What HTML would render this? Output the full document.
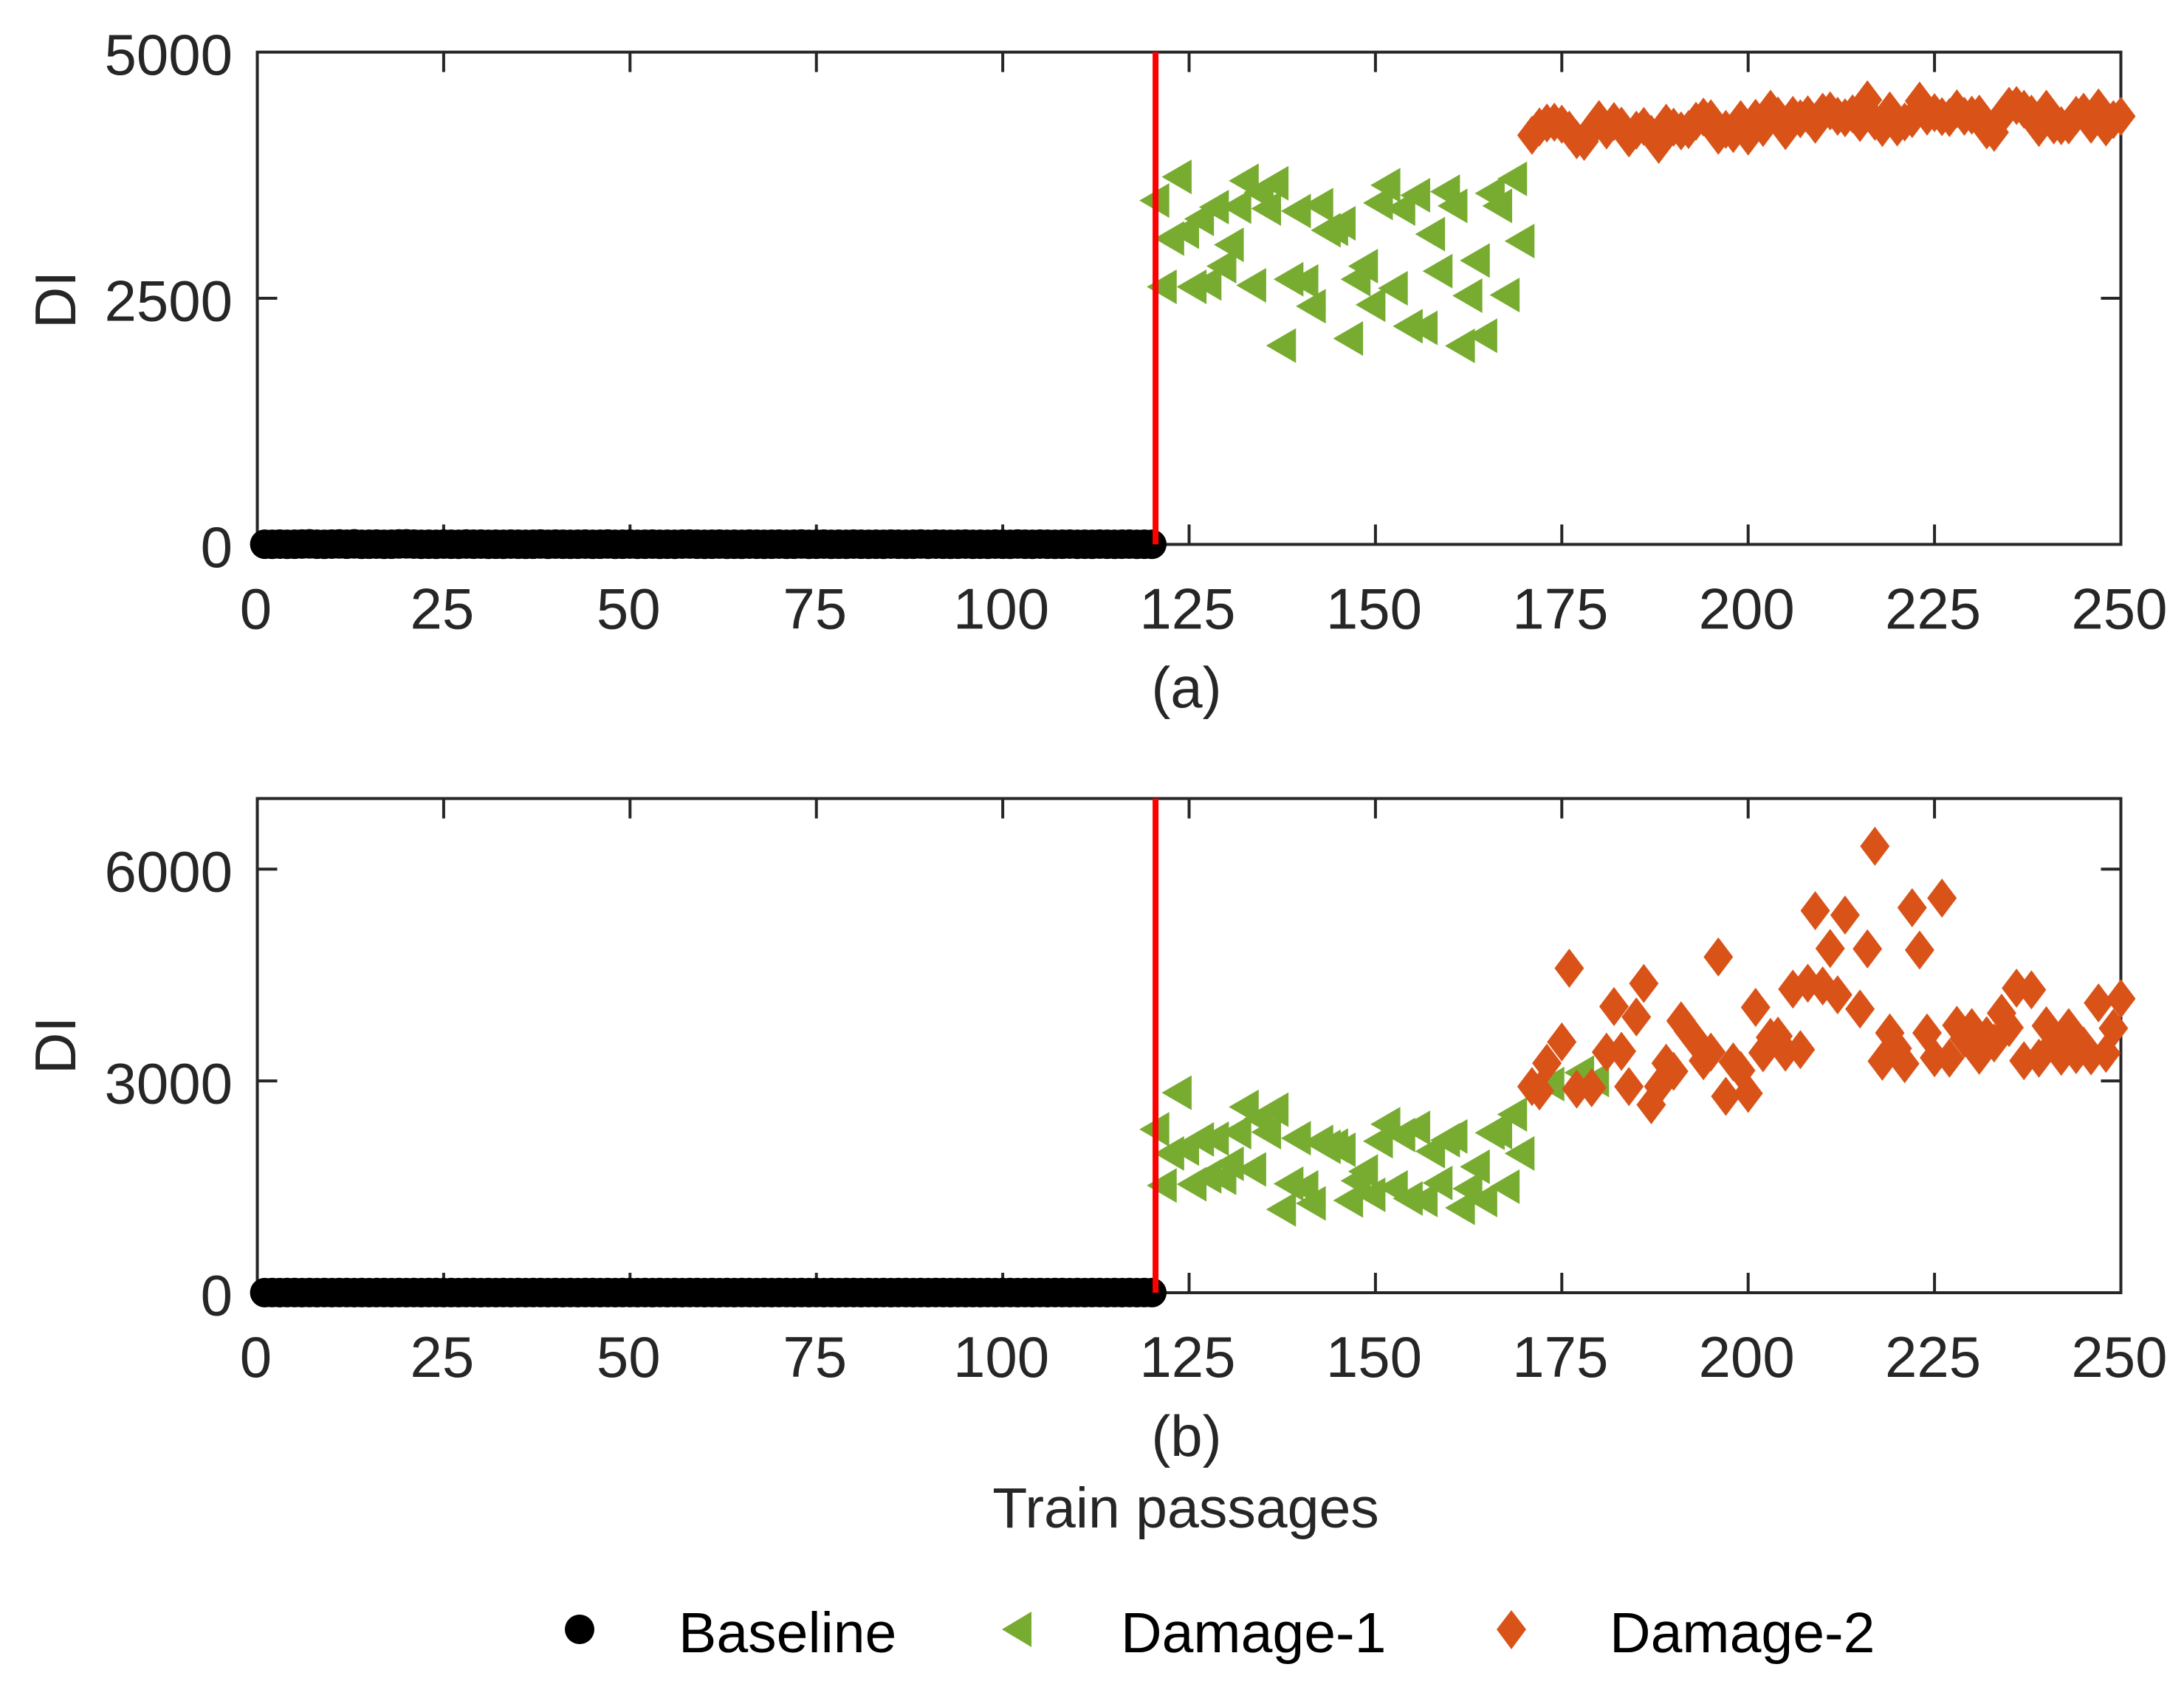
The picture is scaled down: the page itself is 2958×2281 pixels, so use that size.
<!DOCTYPE html>
<html lang="en">
<head>
<meta charset="utf-8">
<title>DI versus train passages</title>
<style>
html,body{margin:0;padding:0;background:#fff;}
svg{display:block;}
text{font-family:"Liberation Sans",Arial,sans-serif;}
</style>
</head>
<body>
<svg id="figure" xmlns="http://www.w3.org/2000/svg" width="2958" height="2281" viewBox="0 0 2958 2281">
  <rect x="0" y="0" width="2958" height="2281" fill="#ffffff"/>
  <g id="panel-a"></g>
  <g id="panel-b"></g>
  <text x="1607" y="958" font-size="78" fill="#262626" text-anchor="middle">(a)</text>
  <text x="1607" y="1972" font-size="78" fill="#262626" text-anchor="middle">(b)</text>
  <text x="1606" y="2069" font-size="77" fill="#262626" text-anchor="middle">Train passages</text>
  <g>
    <g>
      <circle cx="785" cy="2207" r="20" fill="#000000"/>
      <text x="919" y="2238" font-size="77" fill="#000000">Baseline</text>
    </g>
    <g>
      <polygon points="1357,2207 1397,2183 1397,2231" fill="#77ac30"/>
      <text x="1518" y="2238" font-size="77" fill="#000000">Damage-1</text>
    </g>
    <g>
      <polygon points="2027,2207 2047,2181 2067,2207 2047,2234" fill="#d95319"/>
      <text x="2180" y="2238" font-size="77" fill="#000000">Damage-2</text>
    </g>
  </g>
</svg>
<script>
const xTicks = [0,25,50,75,100,125,150,175,200,225,250];
const yTicksA = [0,2500,5000];
const yTicksB = [0,3000,6000];
const changePoint = [120.5];

const baselineXs = [1,2,3,4,5,6,7,8,9,10,11,12,13,14,15,16,17,18,19,20,21,22,23,24,25,26,27,28,29,30,31,32,33,34,35,36,37,38,39,40,41,42,43,44,45,46,47,48,49,50,51,52,53,54,55,56,57,58,59,60,61,62,63,64,65,66,67,68,69,70,71,72,73,74,75,76,77,78,79,80,81,82,83,84,85,86,87,88,89,90,91,92,93,94,95,96,97,98,99,100,101,102,103,104,105,106,107,108,109,110,111,112,113,114,115,116,117,118,119,120];
const baselineA = [2,1,3,1,2,4,6,2,1,3,5,2,6,1,2,3,1,2,5,6,3,1,2,1,3,2,1,4,2,3,1,2,1,3,2,1,2,4,1,3,2,1,2,3,1,2,4,1,2,3,1,2,3,1,2,1,3,4,2,1,2,3,1,2,1,3,2,1,2,3,1,2,4,1,2,3,1,2,1,3,2,1,2,1,3,2,1,2,4,1,3,2,1,2,3,1,2,1,3,2,1,4,2,1,3,2,1,2,3,1,2,1,3,2,1,2,3,1,2,1];
const baselineB = [1,2,1,2,3,1,2,1,2,1,3,2,1,2,1,2,3,1,2,1,2,1,3,2,1,2,1,3,2,1,2,1,3,1,2,1,2,3,1,2,1,2,1,3,2,1,2,1,3,2,1,2,1,3,1,2,1,2,3,1,2,1,2,1,3,2,1,2,1,3,2,1,2,1,3,1,2,1,2,3,1,2,1,2,1,3,2,1,2,1,3,2,1,2,1,3,1,2,1,2,3,1,2,1,2,1,3,2,1,2,1,3,2,1,2,1,3,1,2,1];

const damage1XsA = [121,122,123,124,125,126,127,128,129,130,131,132,133,134,135,136,137,138,139,140,141,142,143,144,145,146,147,148,149,150,151,152,153,154,155,156,157,158,159,160,161,162,163,164,165,166,167,168,169,170];
const damage1A = [3493,2616,3106,3733,3176,2616,3306,2651,3426,2826,3043,3431,3693,2631,3576,3411,3668,2019,2693,3386,2671,2419,3446,3191,3206,3261,2091,2693,2826,2434,3468,3648,2601,3411,2216,3546,2199,3151,2776,3583,3438,2016,2526,2883,2119,3566,3438,2533,3713,3081];

const damage1XsB = [121,122,123,124,125,126,127,128,129,130,131,132,133,134,135,136,137,138,139,140,141,142,143,144,145,146,147,148,149,150,151,152,153,154,155,156,157,158,159,160,161,162,163,164,165,166,167,168,169,170,174,178,180];
const damage1B = [2314,1519,1972,2833,2042,1537,2171,1648,2181,1627,1826,2275,2631,1746,2467,2275,2592,1181,1544,2188,1491,1265,2136,2066,2084,2025,1307,1586,1718,1387,2146,2387,1491,2234,1335,2335,1314,2004,1554,2160,2213,1202,1474,1784,1314,2265,2275,1502,2526,1972,2955,3118,3013];

const damage2XsA = [171,172,173,174,175,176,177,178,179,180,181,182,183,184,185,186,187,188,189,190,191,192,193,194,195,196,197,198,199,200,201,202,203,204,205,206,207,208,209,210,211,212,213,214,215,216,217,218,219,220,221,222,223,224,225,226,227,228,229,230,231,232,233,234,235,236,237,238,239,240,241,242,243,244,245,246,247,248,249,250];
const damage2A = [4155,4240,4280,4288,4268,4208,4110,4093,4213,4315,4210,4295,4248,4128,4208,4245,4165,4063,4278,4238,4200,4213,4298,4340,4323,4155,4215,4173,4315,4148,4328,4235,4420,4350,4203,4358,4323,4363,4268,4390,4403,4348,4333,4373,4285,4515,4298,4235,4403,4240,4290,4325,4503,4350,4385,4345,4335,4423,4348,4360,4370,4210,4185,4350,4450,4458,4420,4370,4235,4420,4260,4253,4260,4358,4390,4268,4433,4240,4315,4348];

const damage2XsB = [171,172,173,175,176,177,179,181,182,183,184,185,186,187,188,189,190,191,192,193,194,195,196,197,198,199,200,201,202,203,204,205,206,207,208,209,210,211,212,213,215,216,217,218,219,220,221,222,223,224,225,226,227,228,229,230,231,232,233,234,235,236,237,238,239,240,241,242,243,244,245,246,247,248,249,250];
const damage2B = [2920,2858,3251,3551,4596,2885,2903,3408,4053,3419,2920,3906,4380,2663,2920,3251,3136,3851,3704,3565,3286,3408,4756,2781,3269,3147,2823,4042,3398,3617,3635,3408,4300,3443,4384,5411,4345,4875,4220,5349,4018,4871,6324,3279,3680,3460,3244,5453,4854,3680,3328,5589,3321,3788,3600,3756,3363,3641,3537,3959,3756,4314,3286,4290,3321,3781,3530,3349,3756,3373,3495,3356,4105,3391,3746,4164];

const SVG_NS = 'http://www.w3.org/2000/svg';
const LEFT = 348.5, RIGHT = 2872.5, XMAX = 250;
function xScale(v){ return LEFT + (RIGHT - LEFT) * v / XMAX; }
function linearY(top, bottom, max){ return function(v){ return bottom - (bottom - top) * v / max; }; }

function make(parent, tag, attrs){
  const el = document.createElementNS(SVG_NS, tag);
  Object.keys(attrs).forEach(function(k){ el.setAttribute(k, attrs[k]); });
  parent.appendChild(el);
  return el;
}

function drawPanel(parent, top, bottom, yMax, yTicks, base, d1x, d1, d2x, d2, yTitleY){
  const yScale = linearY(top, bottom, yMax);
  const axisColor = '#262626';
  const axes = make(parent, 'g', {});
  
  
  const box = make(axes, 'rect', {x: LEFT, y: top, width: RIGHT - LEFT, height: bottom - top, fill: 'none', stroke: axisColor, 'stroke-width': 4});
  
  

  xTicks.forEach(function(t){
    const x = xScale(t);
    if (t > 0 && t < XMAX) {
      const a = make(axes, 'line', {x1: x, x2: x, y1: bottom, y2: bottom - 27, stroke: axisColor, 'stroke-width': 4});
      
      
      const b = make(axes, 'line', {x1: x, x2: x, y1: top, y2: top + 27, stroke: axisColor, 'stroke-width': 4});
      
      
    }
    const label = make(axes, 'text', {x: x - 2, y: bottom + 114, 'font-size': 78, fill: axisColor, 'text-anchor': 'middle'});
    
    
    label.textContent = String(t);
  });

  yTicks.forEach(function(t){
    const y = yScale(t);
    if (t > 0 && t < yMax) {
      const a = make(axes, 'line', {x1: LEFT, x2: LEFT + 27, y1: y, y2: y, stroke: axisColor, 'stroke-width': 4});
      
      
      const b = make(axes, 'line', {x1: RIGHT, x2: RIGHT - 27, y1: y, y2: y, stroke: axisColor, 'stroke-width': 4});
      
      
    }
    const label = make(axes, 'text', {x: 315, y: y + 30.5, 'font-size': 78, fill: axisColor, 'text-anchor': 'end'});
    
    
    label.textContent = String(t);
  });

  const title = make(axes, 'text', {x: 0, y: 0, 'font-size': 78, fill: axisColor, 'text-anchor': 'middle', transform: 'translate(102 ' + yTitleY + ') rotate(-90)'});
  
  
  title.textContent = 'DI';

  const baseGroup = make(parent, 'g', {fill: '#000000'});
  
  
  base.forEach(function(v, i){
    const c = make(baseGroup, 'circle', {cx: xScale(baselineXs[i]), cy: yScale(v), r: 20});
    
    
  });

  const d1Group = make(parent, 'g', {fill: '#77ac30'});
  
  
  d1.forEach(function(v, i){
    const cx = xScale(d1x[i]), cy = yScale(v);
    const p = make(d1Group, 'polygon', {points: (cx - 27) + ',' + cy + ' ' + (cx + 13.5) + ',' + (cy - 23.5) + ' ' + (cx + 13.5) + ',' + (cy + 23.5)});
    
    
  });

  const d2Group = make(parent, 'g', {fill: '#d95319'});
  
  
  d2.forEach(function(v, i){
    const cx = xScale(d2x[i]), cy = yScale(v);
    const p = make(d2Group, 'polygon', {points: (cx - 20) + ',' + cy + ' ' + cx + ',' + (cy - 26.5) + ' ' + (cx + 20) + ',' + cy + ' ' + cx + ',' + (cy + 26.5)});
    
    
  });

  const red = make(parent, 'line', {x1: xScale(changePoint[0]), x2: xScale(changePoint[0]), y1: top, y2: bottom, stroke: '#ff0000', 'stroke-width': 8});
  
  
}

drawPanel(document.getElementById('panel-a'), 70.6, 737.4, 5000, yTicksA, baselineA, damage1XsA, damage1A, damage2XsA, damage2A, 406);
drawPanel(document.getElementById('panel-b'), 1081.6, 1751, 7000, yTicksB, baselineB, damage1XsB, damage1B, damage2XsB, damage2B, 1416);
</script>
</body>
</html>
